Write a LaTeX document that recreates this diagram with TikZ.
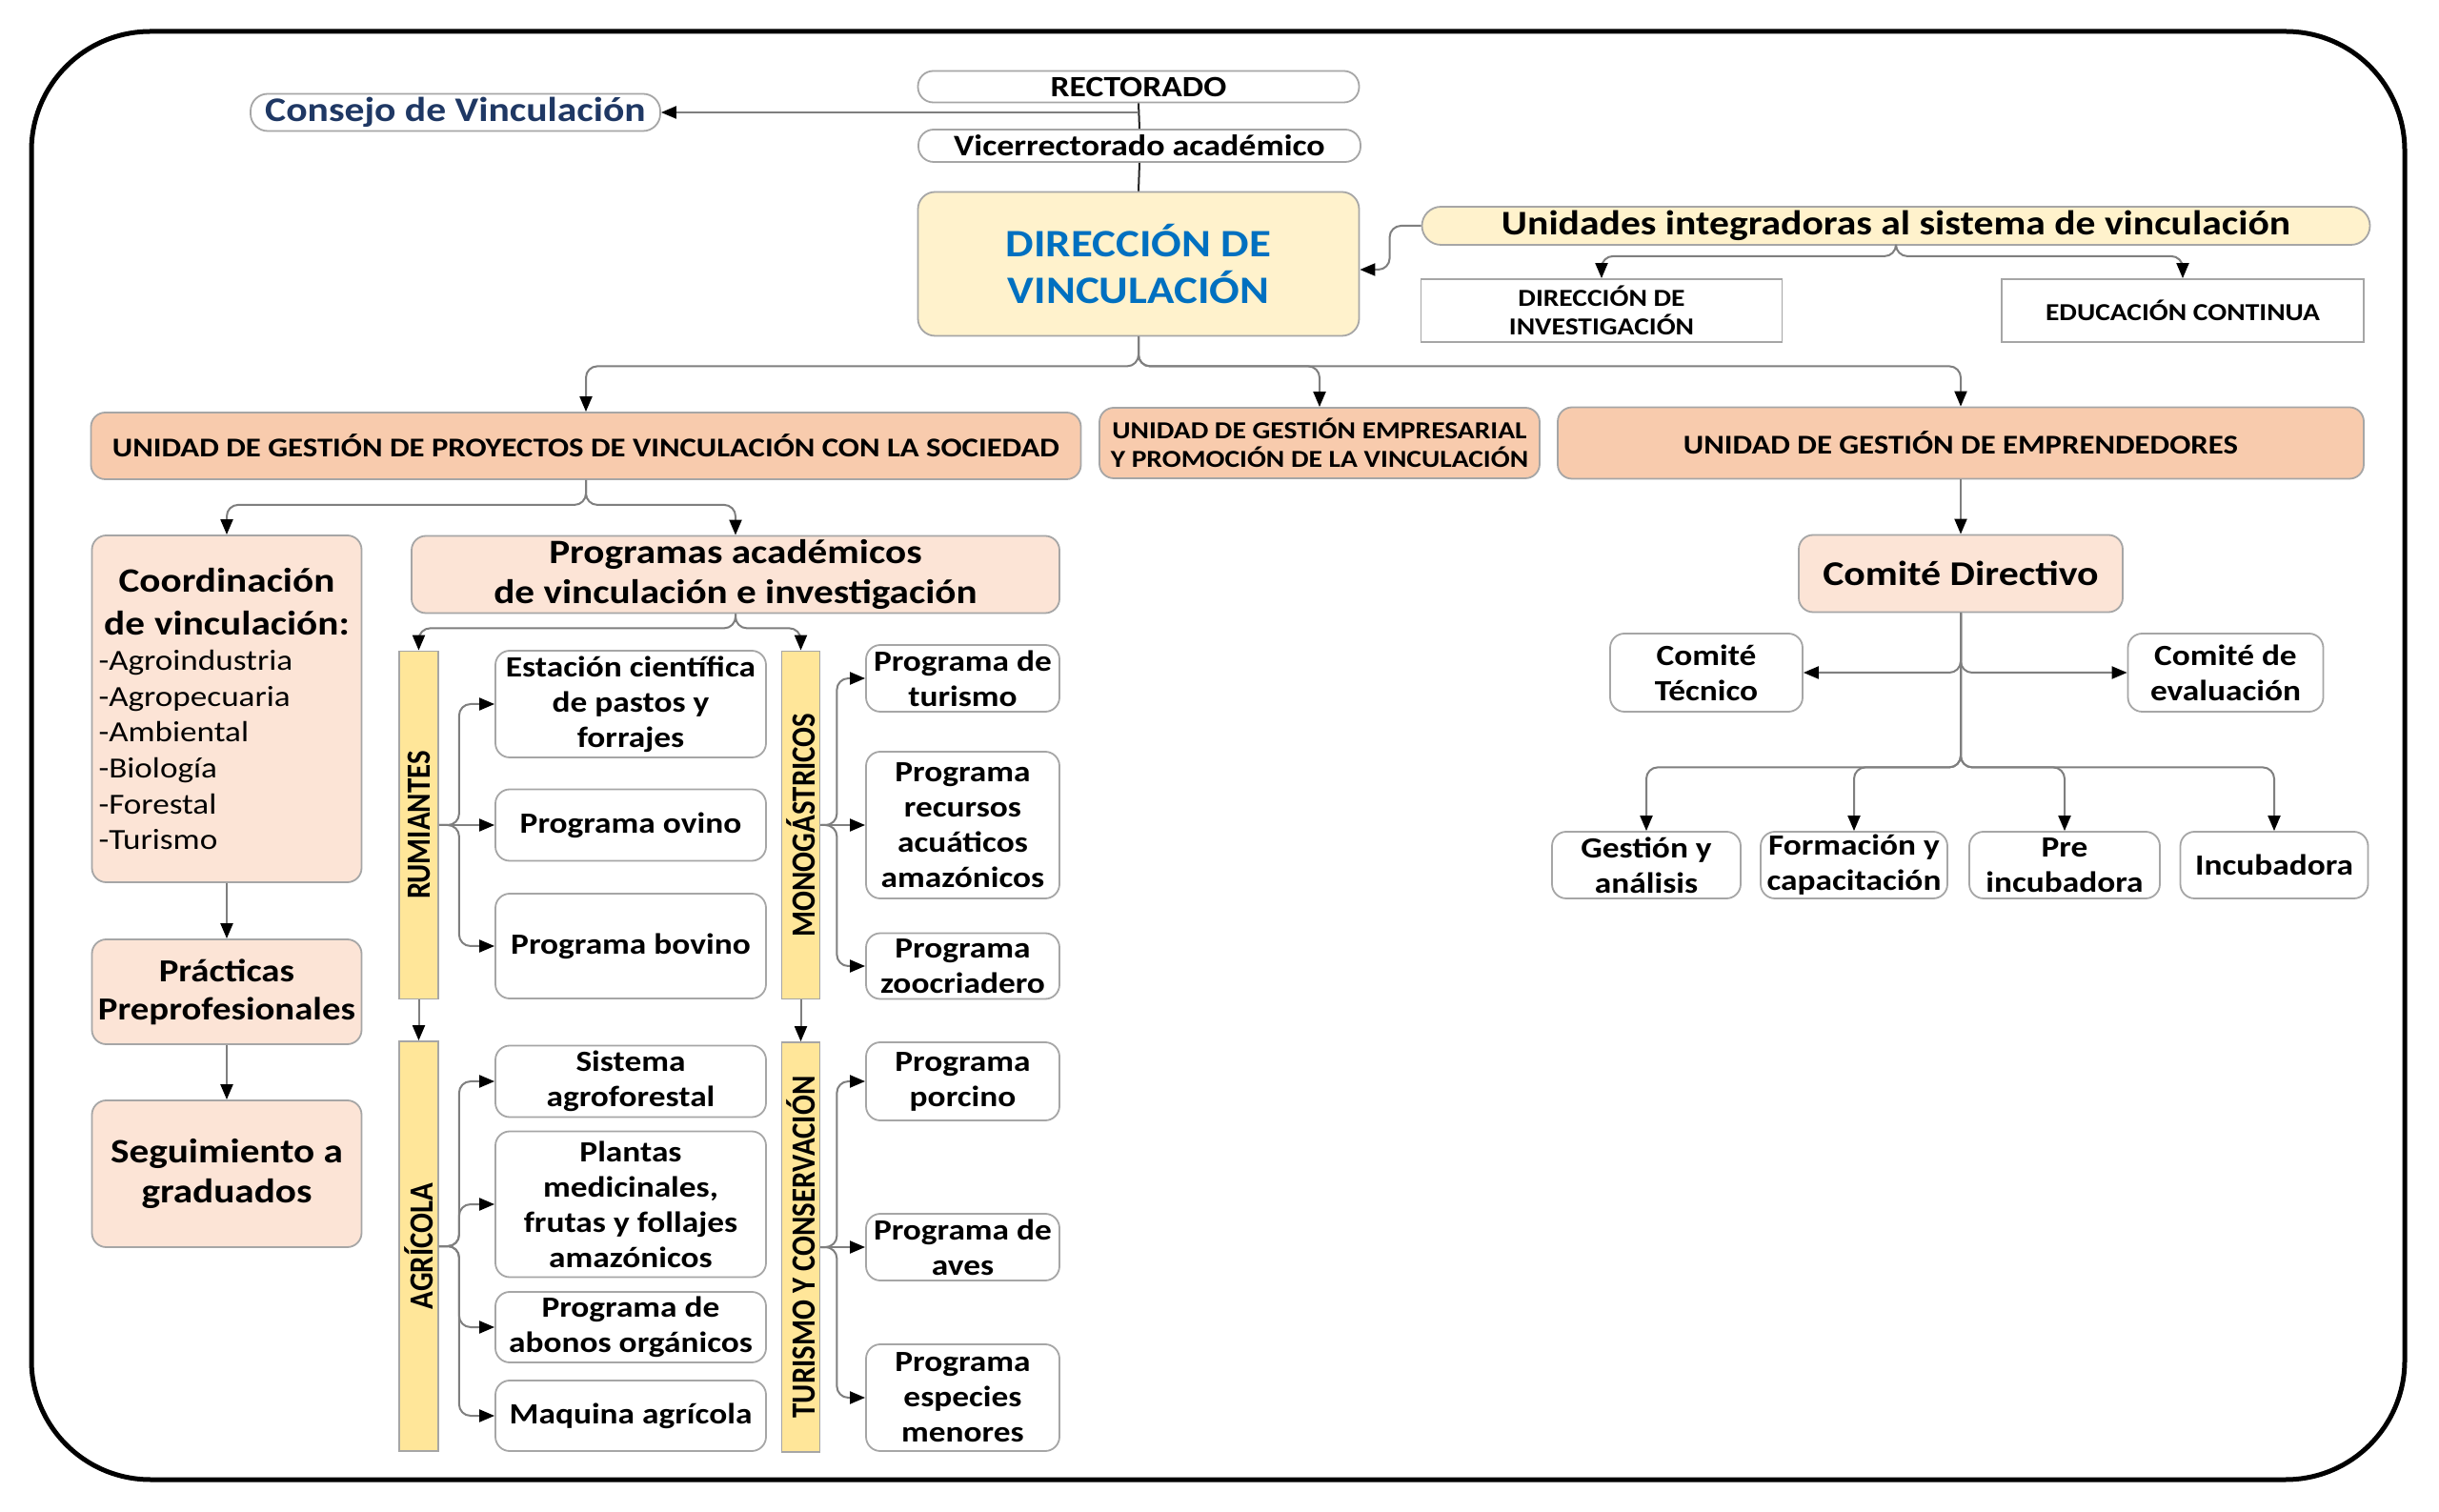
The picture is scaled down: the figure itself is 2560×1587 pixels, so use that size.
\documentclass[tikz,border=0pt]{standalone}
\usepackage{fontspec}
\usepackage{graphicx}
\setmainfont{Carlito}[FakeStretch=1.15]
\newfontfamily\rotf{Carlito}
\usetikzlibrary{arrows.meta}
\newcommand\fsz[2]{\fontsize{#1pt}{#2pt}\selectfont}
\newcommand\barlabel[1]{\rotatebox{90}{\scalebox{1}[1.15]{\rotf\bfseries\fsz{8.8}{10}#1}}}
\definecolor{pk}{HTML}{F8CBAD}
\definecolor{lpk}{HTML}{FCE4D6}
\definecolor{ly}{HTML}{FFF2CC}
\definecolor{yb}{HTML}{FFE699}
\definecolor{bordc}{HTML}{A6A6A6}
\definecolor{linec}{HTML}{7F7F7F}
\definecolor{dblue}{HTML}{0070C0}
\definecolor{navy}{HTML}{1F3864}
\tikzset{
  bx/.style={draw=bordc, line width=0.18mm, rounded corners=1.5mm, align=center, inner sep=0pt, font=\fsz{8.75}{10.5}\bfseries, fill=white},
  sz/.style 2 args={minimum width=#1*0.1mm, minimum height=#2*0.1mm},
  arr/.style={draw=linec, line width=0.2mm, rounded corners=1.2mm, -{Triangle[length=1.6mm,width=1.3mm,black]}},
  ln/.style={draw=black!85, line width=0.2mm},
  bar/.style={draw=bordc, line width=0.18mm, fill=yb, inner sep=0pt},
}
\begin{document}
\begin{tikzpicture}[x=0.1mm, y=-0.1mm]
\fill[white] (0,0) rectangle (2560,1587);
\useasboundingbox (0,0) rectangle (2560,1587);
\draw[line width=0.5mm, rounded corners=12.5mm] (33,33) rectangle (2524,1553);

% top
\node[bx, sz={463}{33}, rounded corners=1.6mm, font=\fsz{8.8}{10}\bfseries] (rect) at (1195,91) {RECTORADO};
\node[bx, sz={464}{34}, rounded corners=1.6mm, font=\fsz{8.9}{10}\bfseries] (vice) at (1196,153) {Vicerrectorado académico};
\node[bx, sz={430}{39}, rounded corners=1.8mm, font=\fsz{10.3}{11}\bfseries, text=navy] (cons) at (478,118) {Consejo de Vinculación};
\node[bx, sz={463}{151}, fill=ly, rounded corners=1.8mm, font=\fsz{11.6}{13.7}\bfseries, text=dblue] (dir) at (1195,277) {DIRECCIÓN DE\\VINCULACIÓN};
\node[bx, sz={995}{40}, fill=ly, rounded corners=2mm, font=\fsz{10.3}{11}\bfseries] (unid) at (1990,237) {Unidades integradoras al sistema de vinculación};
\node[bx, sz={379}{66}, sharp corners, font=\fsz{7.3}{8.5}\bfseries] (dinv) at (1681,326) {DIRECCIÓN DE\\INVESTIGACIÓN};
\node[bx, sz={380}{66}, sharp corners, font=\fsz{7.3}{8.5}\bfseries] (educ) at (2291,326) {EDUCACIÓN CONTINUA};

% units
\node[bx, sz={1039}{70}, fill=pk, font=\fsz{8.1}{9}\bfseries] (ugp) at (615,468) {UNIDAD DE GESTIÓN DE PROYECTOS DE VINCULACIÓN CON LA SOCIEDAD};
\node[bx, sz={462}{74}, fill=pk, font=\fsz{7.3}{8.5}\bfseries] (uge) at (1385,465) {UNIDAD DE GESTIÓN EMPRESARIAL\\Y PROMOCIÓN DE LA VINCULACIÓN};
\node[bx, sz={846}{75}, fill=pk, font=\fsz{8.1}{9}\bfseries] (uemp) at (2058,465) {UNIDAD DE GESTIÓN DE EMPRENDEDORES};

% left column
\node[bx, sz={283}{364}, fill=lpk, text width=26.9mm, align=left] (coord) at (238,744)
  {{\fsz{10.2}{12.8}\centering Coordinación\\de vinculación:\par}
   {\fsz{8.7}{10.7}\mdseries -Agroindustria\\-Agropecuaria\\-Ambiental\\-Biología\\-Forestal\\-Turismo\par}};
\node[bx, sz={283}{110}, fill=lpk, font=\fsz{9.6}{11.4}\bfseries] (prac) at (238,1041) {Prácticas\\Preprofesionales};
\node[bx, sz={283}{154}, fill=lpk, font=\fsz{10.2}{12.2}\bfseries] (seg) at (238,1232) {Seguimiento a\\graduados};
\node[bx, sz={680}{81}, fill=lpk, font=\fsz{10.2}{12}\bfseries] (prog) at (772,603) {Programas académicos\\de vinculación e investigación};

% bars
\node[bar, sz={41}{365}] (rum) at (439.5,866) {\barlabel{RUMIANTES}};
\node[bar, sz={41}{430}] (agr) at (439.5,1308) {\barlabel{AGRÍCOLA}};
\node[bar, sz={40}{365}] (mono) at (840.5,866) {\barlabel{MONOGÁSTRICOS}};
\node[bar, sz={40}{430}] (tur) at (840.5,1309) {\barlabel{TURISMO Y CONSERVACIÓN}};

% rumiantes / agricola children
\node[bx, sz={284}{112}] (est) at (662,739) {Estación científica\\de pastos y\\forrajes};
\node[bx, sz={284}{75}] (ovi) at (662,866) {Programa ovino};
\node[bx, sz={284}{110}] (bov) at (662,993) {Programa bovino};
\node[bx, sz={284}{75}] (sis) at (662,1135) {Sistema\\agroforestal};
\node[bx, sz={284}{153}] (pla) at (662,1264) {Plantas\\medicinales,\\frutas y follajes\\amazónicos};
\node[bx, sz={284}{74}] (abo) at (662,1393) {Programa de\\abonos orgánicos};
\node[bx, sz={284}{74}] (maq) at (662,1486) {Maquina agrícola};

% monogastricos / turismo children
\node[bx, sz={203}{70}] (tur1) at (1010.5,712) {Programa de\\turismo};
\node[bx, sz={203}{154}] (rec) at (1010.5,866) {Programa\\recursos\\acuáticos\\amazónicos};
\node[bx, sz={203}{69}] (zoo) at (1010.5,1014) {Programa\\zoocriadero};
\node[bx, sz={203}{82}] (por) at (1010.5,1135) {Programa\\porcino};
\node[bx, sz={203}{70}] (ave) at (1010.5,1309) {Programa de\\aves};
\node[bx, sz={203}{112}] (esp) at (1010.5,1467) {Programa\\especies\\menores};

% right side
\node[bx, sz={340}{81}, fill=lpk, font=\fsz{10.35}{11}\bfseries] (cd) at (2058,602) {Comité Directivo};
\node[bx, sz={202}{82}] (tec) at (1791,706) {Comité\\Técnico};
\node[bx, sz={205}{82}] (eva) at (2336,706) {Comité de\\evaluación};
\node[bx, sz={198}{70}] (ges) at (1728,908) {Gestión y\\análisis};
\node[bx, sz={196}{70}] (for) at (1946,908) {Formación y\\capacitación};
\node[bx, sz={200}{70}] (pre) at (2167,908) {Pre\\incubadora};
\node[bx, sz={197}{70}] (inc) at (2387,908) {Incubadora};

% connectors
\draw[ln] (rect.south) -- (vice.north);
\draw[ln] (vice.south) -- (dir.north);
\draw[arr] (rect.south |- cons.east) -- (cons.east);
\draw[arr] (unid.west) -- ++(-33,0) |- ([yshift=-0.6mm]dir.east);
\draw[arr] (unid.south) -- ++(0,11) -| (dinv.north);
\draw[arr] (unid.south) -- ++(0,11) -| (educ.north);
\draw[arr] (dir.south) -- ++(0,31) -| (ugp.north);
\draw[arr] (dir.south) -- ++(0,31) -| (uge.north);
\draw[arr] (dir.south) -- ++(0,31) -| (uemp.north);
\draw[arr] (ugp.south) -- ++(0,26) -| (coord.north);
\draw[arr] (ugp.south) -- ++(0,26) -| (prog.north);
\draw[arr] (coord.south) -- (prac.north);
\draw[arr] (prac.south) -- (seg.north);
\draw[arr] (prog.south) -- ++(0,15) -| (rum.north);
\draw[arr] (prog.south) -- ++(0,15) -| (mono.north);
\draw[arr] (rum.south) -- (agr.north);
\draw[arr] (mono.south) -- (tur.north);

\draw[arr] (rum.east) -- ++(21,0) |- (est.west);
\draw[arr] (rum.east) -- (ovi.west);
\draw[arr] (rum.east) -- ++(21,0) |- (bov.west);
\draw[arr] (agr.east) -- ++(21,0) |- (sis.west);
\draw[arr] (agr.east) -- ++(21,0) |- (pla.west);
\draw[arr] (agr.east) -- ++(21,0) |- (abo.west);
\draw[arr] (agr.east) -- ++(21,0) |- (maq.west);

\draw[arr] (mono.east) -- ++(17,0) |- (tur1.west);
\draw[arr] (mono.east) -- (rec.west);
\draw[arr] (mono.east) -- ++(17,0) |- (zoo.west);
\draw[arr] (tur.east) -- ++(17,0) |- (por.west);
\draw[arr] (tur.east) -- (ave.west);
\draw[arr] (tur.east) -- ++(17,0) |- (esp.west);

\draw[arr] (uemp.south) -- (cd.north);
\draw[arr] (cd.south) |- (tec.east);
\draw[arr] (cd.south) |- (eva.west);
\draw[arr] (cd.south) -- ++(0,162) -| (ges.north);
\draw[arr] (cd.south) -- ++(0,162) -| (for.north);
\draw[arr] (cd.south) -- ++(0,162) -| (pre.north);
\draw[arr] (cd.south) -- ++(0,162) -| (inc.north);
\end{tikzpicture}
\end{document}
